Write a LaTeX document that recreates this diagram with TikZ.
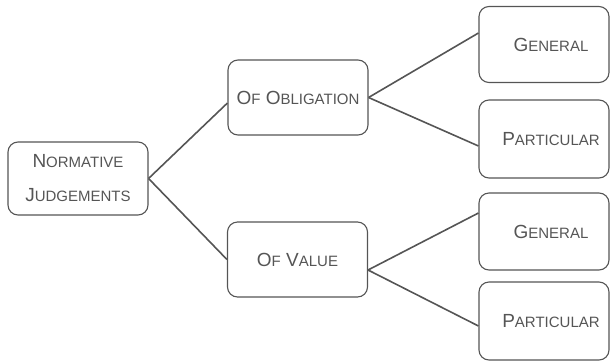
\documentclass[tikz,border=0pt]{standalone}
\usepackage{fontspec}
\setmainfont{Liberation Sans}
\definecolor{ink}{HTML}{555555}
% hand-made small capitals: full-size initial, smaller capitals after it
\newcommand{\capsc}[2]{{\fontsize{19}{34}\selectfont #1}{\fontsize{15}{34}\selectfont #2}}
\begin{document}
\begin{tikzpicture}[x=1pt,y=-1pt,
  box/.style={draw=ink, line width=1.1pt, rounded corners=10pt, text=ink,
    align=center, inner sep=0pt, font=\fontsize{19}{34}\selectfont},
  wide/.style={box, minimum width=140pt, minimum height=75pt},
  leaf/.style={box, minimum width=130pt, minimum height=76pt},
  link/.style={draw=ink, line width=1.6pt}]
\useasboundingbox (0,0) rectangle (610,362);

% root
\node[box, minimum width=140pt, minimum height=73pt] (norm) at (78,178.5)
  {\capsc{N}{ORMATIVE}\\\capsc{J}{UDGEMENTS}};

% middle level
\node[wide] (obl) at (298,97.5) {\capsc{O}{F} \capsc{O}{BLIGATION}};
\node[wide] (val) at (297.5,259.5) {\capsc{O}{F} \capsc{V}{ALUE}};

% leaves
\node[leaf] (gen1)  at (544,44.5)  {\hspace*{14pt}\capsc{G}{ENERAL}};
\node[leaf, minimum height=78pt] (part1) at (544,139)   {\hspace*{14pt}\capsc{P}{ARTICULAR}};
\node[leaf, minimum height=77pt] (gen2)  at (544,231.5) {\hspace*{14pt}\capsc{G}{ENERAL}};
\node[leaf, minimum height=78pt] (part2) at (544,321)   {\hspace*{14pt}\capsc{P}{ARTICULAR}};

% connectors
\draw[link] (norm.east) -- ([yshift=-5.5pt]obl.west);
\draw[link] (norm.east) -- (val.west);
\draw[link] (obl.east) -- ([yshift=11.5pt]gen1.west);
\draw[link] (obl.east) -- ([yshift=-7pt]part1.west);
\draw[link] ([yshift=-10.5pt]val.east) -- ([yshift=18.5pt]gen2.west);
\draw[link] ([yshift=-10.5pt]val.east) -- ([yshift=-5pt]part2.west);
\end{tikzpicture}
\end{document}
